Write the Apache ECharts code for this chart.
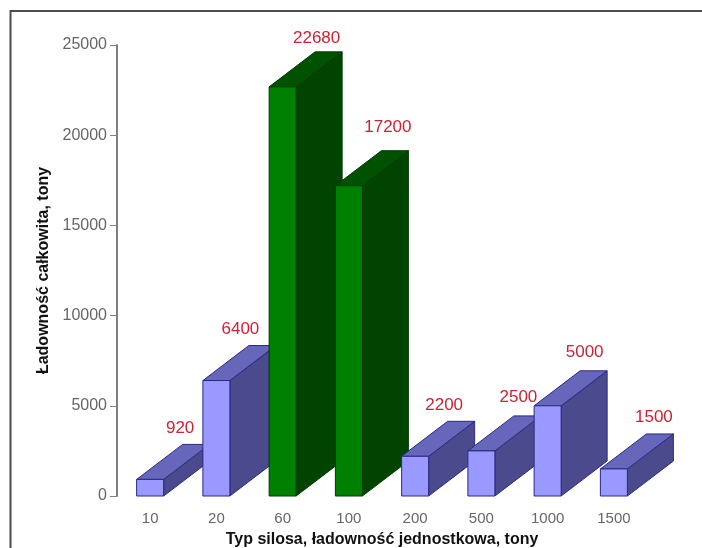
<!DOCTYPE html>
<html>
<head>
<meta charset="utf-8">
<style>html,body{margin:0;padding:0;background:#fff}#c{width:702px;height:548px}</style>
<script src="https://cdn.jsdelivr.net/npm/echarts@6/dist/echarts.min.js"></script>
</head>
<body>
<div id="c"></div>
<script>
// Silo types and their total capacity in tons
const siloTypes = ['10', '20', '60', '100', '200', '500', '1000', '1500'];
const totalCapacity = [920, 6400, 22680, 17200, 2200, 2500, 5000, 1500];
const highlighted = [false, false, true, true, false, false, false, false];
const yTicks = [0, 5000, 10000, 15000, 20000, 25000];

// Hand-placed value labels: shift from the back top corner of each block
const labelShift = [[-16, -16], [-22, -16], [-12, -14], [-7, -23], [-17, -16], [-9, -19], [-9, -18], [-6, -17]];

const palettes = {
  blue: { front: '#9999ff', top: '#6666bb', side: '#4a4a8c', edge: '#2a2a80' },
  green: { front: '#008000', top: '#005200', side: '#004400', edge: '#003a00' }
};
const DEPTH_X = 46, DEPTH_Y = -35, BAR_W = 27;
const FONT = '"Liberation Sans", Arial, sans-serif';

function renderBlock(params, api) {
  const i = api.value(0);
  const base = api.coord([i, 0]);
  const head = api.coord([i, api.value(1)]);
  const c = highlighted[i] ? palettes.green : palettes.blue;
  const l = base[0] - BAR_W / 2, r = l + BAR_W, t = head[1], b = base[1];
  const dx = DEPTH_X, dy = DEPTH_Y;
  const face = (points, fill) => ({
    type: 'polygon',
    shape: { points },
    style: { fill, stroke: c.edge, lineWidth: 1 }
  });
  const shift = labelShift[i];
  return {
    type: 'group',
    children: [
      face([[r, b], [r + dx, b + dy], [r + dx, t + dy], [r, t]], c.side),
      face([[l, t], [r, t], [r + dx, t + dy], [l + dx, t + dy]], c.top),
      face([[l, t], [r, t], [r, b], [l, b]], c.front),
      {
        type: 'text',
        style: {
          x: l + dx + BAR_W / 2 + shift[0],
          y: t + dy + shift[1],
          text: String(api.value(1)),
          fill: '#cc2233',
          font: '17px ' + FONT,
          align: 'center',
          verticalAlign: 'middle'
        }
      }
    ]
  };
}

const chart = echarts.init(document.getElementById('c'), null, { renderer: 'canvas' });
chart.setOption({
  animation: false,
  backgroundColor: '#fff',
  graphic: [{
    type: 'polyline',
    shape: { points: [[10.5, 560], [10.5, 11], [710, 11]] },
    style: { fill: null, stroke: '#4d4d4d', lineWidth: 2 },
    z: 0
  }],
  grid: { left: 117, top: 45, width: 530, height: 451, containLabel: false, outerBoundsMode: 'none' },
  xAxis: {
    type: 'category',
    data: siloTypes,
    axisLine: { show: false },
    axisTick: { show: false },
    axisLabel: { color: '#666', fontSize: 15, margin: 15, fontFamily: FONT },
    name: 'Typ silosa, ładowność jednostkowa, tony',
    nameLocation: 'middle',
    nameGap: 36,
    nameTextStyle: { color: '#111', fontWeight: 'bold', fontSize: 16, fontFamily: FONT }
  },
  yAxis: {
    type: 'value',
    min: yTicks[0],
    max: yTicks[yTicks.length - 1],
    interval: yTicks[1] - yTicks[0],
    splitLine: { show: false },
    axisLine: { show: true, lineStyle: { color: '#808080', width: 2 } },
    axisTick: { show: true, length: 7, lineStyle: { color: '#808080' } },
    axisLabel: { color: '#666', fontSize: 16, margin: 10, fontFamily: FONT, formatter: v => String(v) },
    name: 'Ładowność całkowita, tony',
    nameLocation: 'middle',
    nameGap: 65,
    nameRotate: 90,
    nameTextStyle: { color: '#111', fontWeight: 'bold', fontSize: 16, fontFamily: FONT }
  },
  series: [{
    type: 'custom',
    renderItem: renderBlock,
    encode: { x: 0, y: 1 },
    clip: false,
    data: siloTypes.map((_, i) => [i, totalCapacity[i]])
  }]
});
</script>
</body>
</html>
